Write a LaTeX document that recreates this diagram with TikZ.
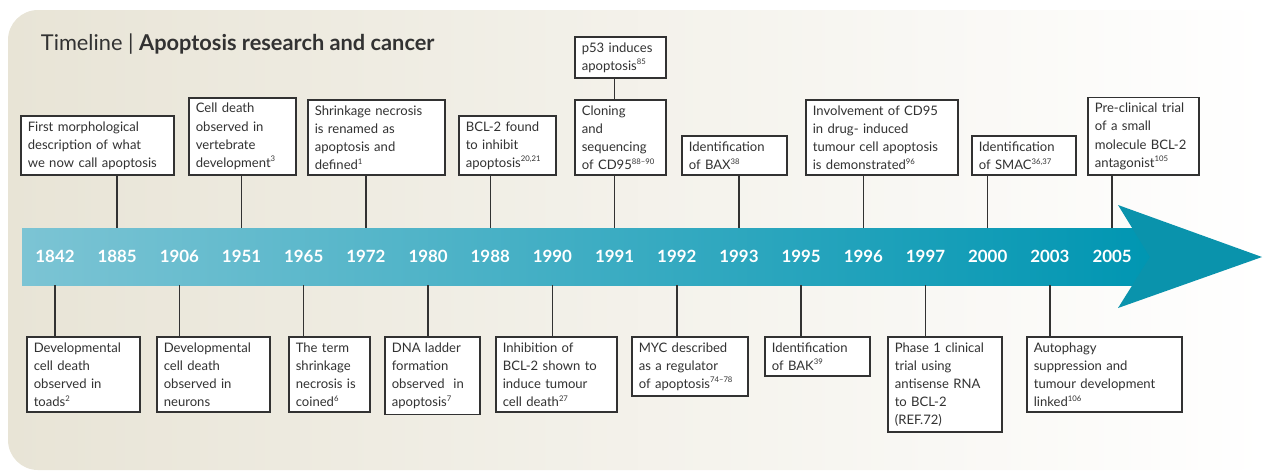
\documentclass[tikz,border=0pt]{standalone}
\usepackage{fontspec}
\setmainfont{Lato}
\usetikzlibrary{positioning}
\definecolor{paper}{RGB}{232,228,214}
\definecolor{bandL}{RGB}{124,196,212}
\definecolor{bandM}{RGB}{38,170,196}
\definecolor{bandR}{RGB}{0,150,178}
\definecolor{tipc}{RGB}{10,147,172}
\definecolor{ink}{RGB}{50,50,50}
\newcommand{\refs}[1]{\textsuperscript{\fontsize{5.5}{6}\selectfont #1}}
\tikzset{
  event/.style={
    draw = ink,
    fill = white,
    line width = 0.04cm,
    text = ink,
    align = left,
    inner xsep = 0.175cm,
    inner ysep = 0.14cm,
    font = \fontsize{9.3}{12.9}\selectfont
  },
  up/.style={
    event,
    anchor = south west
  },
  down/.style={
    event,
    anchor = north west
  },
  year/.style={
    text = white,
    font = \bfseries\fontsize{12}{14}\selectfont,
    minimum height = 1.425cm,
    inner sep = 0
  },
  link/.style={
    draw = ink,
    line width = 0.035cm
  }
}

\begin{document}
\begin{tikzpicture}[x=0.025cm, y=-0.025cm]
    \def\dx{62.18}
    \useasboundingbox (0,0) rectangle (1267,470);
    % paper and time band
    \shade[left color=paper, middle color=paper!55!white, right color=white, rounded corners=0.75cm] (8,10) rectangle (1267,470);
    \shade[left color=bandL, middle color=bandM, right color=bandR] (22,228) rectangle (1152,285);
    \fill[tipc] (1118,205) -- (1262,257) -- (1118,308) -- (1150,257) -- cycle;
    \node[anchor=west, text=ink, font=\fontsize{15.5}{17}\selectfont] (title) at (36,44) {Timeline | \textbf{Apoptosis research and cancer}};
    % years
    \foreach \yr [count=\i from 0] in {1842,1885,1906,1951,1965,1972,1980,1988,1990,1991,1992,1993,1995,1996,1997,2000,2003,2005}{
        \node[year] (y\yr) at ({55+\dx*\i}, 256.5) {\yr};
    }
    % events above the band
    \node[up, text width=3.475cm] (e1885) at (20,176) {First morphological\\description of what\\we now call apoptosis};
    \node[up, text width=2.325cm] (e1951) at (188,176) {Cell death\\observed in\\vertebrate\\development\refs{3}};
    \node[up, text width=3.075cm] (e1972) at (307,176) {Shrinkage necrosis\\is renamed as\\apoptosis and\\defined\refs{1}};
    \node[up, text width=2.075cm] (e1988) at (458,176) {BCL-2 found\\to inhibit\\apoptosis\refs{20,21}};
    \node[up, text width=1.925cm] (e1991) at (574,176) {Cloning\\and\\sequencing\\of CD95\refs{88--90}};
    \node[up, text width=1.925cm] (p53) at (574,79) {p53 induces\\apoptosis\refs{85}};
    \node[up, text width=2.275cm] (e1993) at (681,176) {Identification\\of BAX\refs{38}};
    \node[up, text width=3.45cm] (e1996) at (805,176) {Involvement of CD95\\in drug- induced\\tumour cell apoptosis\\is demonstrated\refs{96}};
    \node[up, text width=2.25cm] (e2000) at (971,176) {Identification\\of SMAC\refs{36,37}};
    \node[up, text width=2.425cm] (e2005) at (1087,176) {Pre-clinical trial\\of a small\\molecule BCL-2\\antagonist\refs{105}};
    % events below the band
    \node[down, text width=2.475cm] (e1842) at (26,336) {Developmental\\cell death\\observed in\\toads\refs{2}};
    \node[down, text width=2.475cm] (e1906) at (156,336) {Developmental\\cell death\\observed in\\neurons};
    \node[down, text width=1.675cm] (e1965) at (288,336) {The term\\shrinkage\\necrosis is\\coined\refs{6}};
    \node[down, text width=2.025cm] (e1980) at (384,336) {DNA ladder\\formation\\observed~ in\\apoptosis\refs{7}};
    \node[down, text width=2.675cm] (e1990) at (495,336) {Inhibition of\\BCL-2 shown to\\induce tumour\\cell death\refs{27}};
    \node[down, text width=2.55cm] (e1992) at (631,336) {MYC described\\as a regulator\\of apoptosis\refs{74--78}};
    \node[down, text width=2.275cm] (e1995) at (764,336) {Identification\\of BAK\refs{39}};
    \node[down, text width=2.5cm] (e1997) at (887,336) {Phase 1 clinical\\trial using\\antisense RNA\\to BCL-2\\(REF.72)};
    \node[down, text width=3.525cm] (e2003) at (1026,336) {Autophagy\\suppression and\\tumour development\\linked\refs{106}};
    % connectors
    \foreach \yr in {1885,1951,1972,1988,1991,1993,1996,2000,2005}{
        \draw[link] (y\yr.north) -- (e\yr.south -| y\yr.north);
    }
    \foreach \yr in {1842,1906,1965,1980,1990,1992,1995,1997,2003}{
        \draw[link] (y\yr.south) -- (e\yr.north -| y\yr.south);
    }
    \draw[link] (e1991.north -| y1991) -- (p53.south -| y1991);
\end{tikzpicture}
\end{document}
